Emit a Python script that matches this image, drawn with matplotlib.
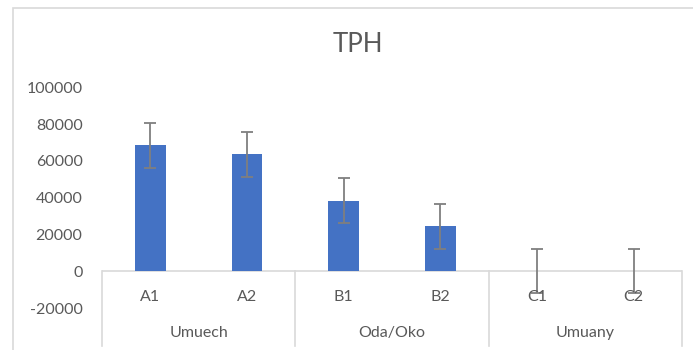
import numpy as np
import matplotlib.pyplot as plt
from matplotlib.patches import Rectangle

# data
samples = ['A1', 'A2', 'B1', 'B2', 'C1', 'C2']
groups = ['Umuech', 'Oda/Oko', 'Umuany']
group_size = [2, 2, 2]
tph = [68500, 63600, 38300, 24400, 300, 300]
tph_err = [12300, 12300, 12300, 12100, 12000, 12000]
yticks = [-20000, 0, 20000, 40000, 60000, 80000, 100000]

txt = '#595959'
grid = '#d9d9d9'
plt.rcParams['font.family'] = ['Lato', 'DejaVu Sans']

W, H = 693, 350
fig = plt.figure(figsize=(W/100, H/100), dpi=100)
ax = fig.add_axes([102/W, 1-308/H, 580/W, (308-87.5)/H])

x = np.arange(len(samples))
ax.bar(x, tph, width=0.32, color='#4472C4', linewidth=0)
ax.errorbar(x, tph, yerr=tph_err, fmt='none', ecolor='#7f7f7f',
            elinewidth=1.3, capsize=4, capthick=1.3)

ax.set_xlim(-0.5, len(samples)-0.5)
ax.set_ylim(yticks[0], yticks[-1])
ax.set_yticks(yticks)
ax.set_yticklabels([str(v) for v in yticks], color=txt, fontsize=11.5)
ax.tick_params(axis='y', length=0, pad=14)
ax.set_xticks([])
for s in ax.spines.values():
    s.set_visible(False)

# horizontal axis at zero
ax.axhline(0, color=grid, lw=1.2, zorder=0.5)

# multi-level category labels
for i, s in enumerate(samples):
    ax.text(i, -14000, s, ha='center', va='center', color=txt, fontsize=11.5, clip_on=False)
start = 0
bounds = [-0.5]
for g, n in zip(groups, group_size):
    ax.text(start + (n-1)/2, -33800, g, ha='center', va='center', color=txt,
            fontsize=11.5, clip_on=False)
    start += n
    bounds.append(start - 0.5)
for b in bounds:
    ax.plot([b, b], [0, -40500], color=grid, lw=1.2, clip_on=False)

fig.text(358/W, 1-45/H, 'TPH', ha='center', va='center', color=txt, fontsize=18.5)

# chart border
fig.patches.append(Rectangle((13/W, -0.1), 1.1, 1.1 - 8.5/H, transform=fig.transFigure,
                             fill=False, edgecolor=grid, lw=1.2))

fig.savefig('out.png', dpi=100)
